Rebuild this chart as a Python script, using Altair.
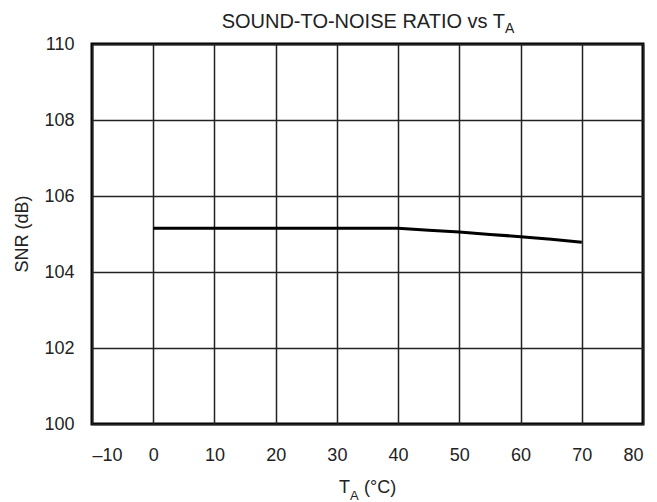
import altair as alt
import pandas as pd

temps = [0, 10, 20, 30, 40, 45, 50, 55, 60, 65, 70]
snr = [105.15, 105.15, 105.15, 105.15, 105.15, 105.1, 105.05, 104.99, 104.93, 104.86, 104.78]
x_ticks = [-10, 0, 10, 20, 30, 40, 50, 60, 70, 80]
y_ticks = [100, 102, 104, 106, 108, 110]

FONT = "Liberation Sans"
W, H = 551, 380

df = pd.DataFrame({"t": temps, "snr": snr})

line = alt.Chart(df).mark_line(color="black", strokeWidth=3).encode(
    x=alt.X("t:Q",
            scale=alt.Scale(domain=[-10, 80], nice=False, zero=False),
            axis=alt.Axis(values=x_ticks, title=None, grid=True, tickSize=0,
                          domain=False, labelFontSize=18, labelFont=FONT,
                          labelColor="#222", labelPadding=22,
                          labelExpr="datum.value < 0 ? '\u2013' + abs(datum.value) : datum.label")),
    y=alt.Y("snr:Q",
            scale=alt.Scale(domain=[100, 110], nice=False, zero=False),
            axis=alt.Axis(values=y_ticks, title=None, grid=True, tickSize=0,
                          domain=False, labelFontSize=18, labelFont=FONT,
                          labelColor="#222", labelPadding=18)),
)


def txt(s, x, y, size=18, align="left", baseline="alphabetic", angle=0):
    kw = dict(font=FONT, fontSize=size, color="#222", align=align, baseline=baseline)
    if angle:
        kw["angle"] = angle
    return alt.Chart(pd.DataFrame({"s": [s]})).mark_text(**kw).encode(
        text="s:N", x=alt.value(x), y=alt.value(y))


title_main = txt("SOUND-TO-NOISE RATIO vs T", 413, -16, size=20, align="right")
title_sub = txt("A", 413, -11, size=14)
xt_T = txt("T", 258, 449, align="right")
xt_A = txt("A", 258, 456, size=13)
xt_rest = txt("(°C)", 272, 449)
yt = txt("SNR (dB)", -64, 190, align="center", angle=270)

chart = alt.layer(line, title_main, title_sub, xt_T, xt_A, xt_rest, yt).properties(
    width=W, height=H,
    background="white",
    autosize=alt.AutoSizeParams(type="none"),
    padding={"left": 92, "top": 44, "right": 14, "bottom": 78},
).configure_view(stroke="black", strokeWidth=3).configure_axis(
    gridColor="#222", gridWidth=1.5, gridOpacity=1
)

chart.save("out.html", embed_options={"renderer": "svg", "actions": False})
